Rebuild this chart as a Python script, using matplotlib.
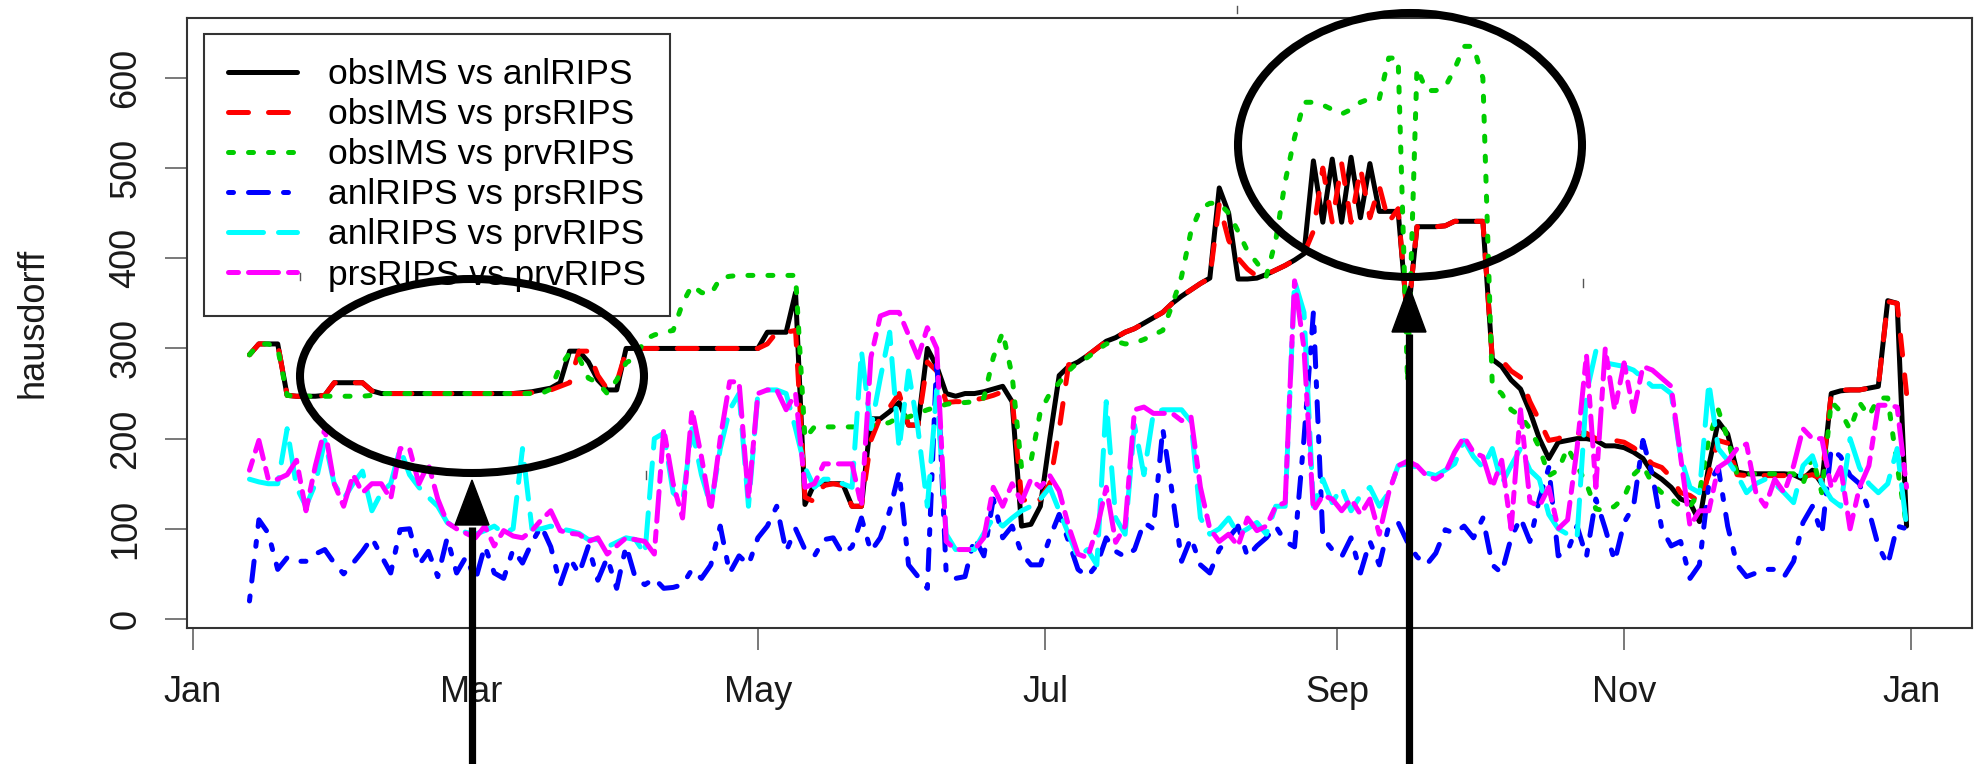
import numpy as np
import matplotlib
matplotlib.use("Agg")
import matplotlib.pyplot as plt
import matplotlib.dates as mdates
from matplotlib.patches import Ellipse, Polygon

# ---------------- data (every 2nd day, 13 Jan .. 31 Dec) ----------------
start_date = np.datetime64('2011-01-13')
dates = start_date + np.arange(0, 353, 2).astype('timedelta64[D]')

obsIMS_anlRIPS = [
    293, 305, 305, 305, 248, 247, 247, 247, 248, 262,
    262, 262, 262, 253, 250, 250, 250, 250, 250, 250,
    250, 250, 250, 250, 250, 250, 250, 250, 250, 251,
    252, 254, 256, 262, 297, 297, 285, 265, 254, 254,
    300, 300, 300, 300, 300, 300, 300, 300, 300, 300,
    300, 300, 300, 300, 300, 318, 318, 318, 362, 127,
    150, 150, 150, 150, 125, 125, 222, 222, 230, 240,
    215, 215, 300, 280, 250, 247, 250, 250, 252, 255,
    258, 241, 103, 105, 125, 200, 270, 280, 285, 292,
    300, 308, 312, 318, 322, 328, 334, 340, 350, 358,
    365, 372, 378, 478, 450, 377, 377, 378, 382, 387,
    392, 398, 405, 508, 440, 510, 440, 512, 445, 505,
    452, 452, 452, 330, 435, 435, 435, 436, 441, 441,
    441, 441, 288, 280, 265, 255, 230, 200, 178, 196,
    198, 200, 200, 198, 192, 192, 190, 185, 178, 162,
    155, 146, 133, 129, 108, 170, 219, 205, 163, 161,
    161, 161, 161, 161, 160, 155, 165, 150, 250, 253,
    254, 254, 256, 258, 353, 350, 103]

obsIMS_prsRIPS = [
    293, 305, 305, 305, 248, 247, 247, 247, 248, 262,
    262, 262, 262, 253, 250, 250, 250, 250, 250, 250,
    250, 250, 250, 250, 250, 250, 250, 250, 250, 250,
    251, 252, 254, 258, 262, 297, 297, 270, 255, 262,
    297, 300, 300, 300, 300, 300, 300, 300, 300, 300,
    300, 300, 300, 300, 300, 305, 318, 318, 320, 135,
    130, 148, 150, 148, 125, 125, 198, 224, 235, 250,
    215, 215, 285, 275, 240, 241, 241, 243, 245, 248,
    252, 245, 135, 125, 133, 150, 210, 282, 285, 292,
    300, 308, 312, 318, 322, 328, 334, 340, 350, 358,
    365, 372, 378, 460, 420, 400, 388, 380, 382, 387,
    392, 398, 405, 430, 500, 440, 505, 440, 500, 445,
    480, 440, 455, 330, 435, 435, 435, 436, 441, 441,
    441, 441, 288, 287, 275, 268, 241, 220, 198, 200,
    205, 206, 206, 200, 198, 198, 196, 190, 182, 172,
    168, 157, 140, 137, 130, 160, 198, 195, 160, 159,
    159, 159, 159, 159, 159, 158, 160, 155, 250, 254,
    254, 254, 256, 258, 352, 350, 250]

obsIMS_prvRIPS = [
    293, 305, 305, 300, 248, 247, 247, 247, 247, 247,
    247, 247, 247, 248, 250, 250, 250, 250, 250, 250,
    250, 250, 250, 250, 250, 250, 250, 250, 250, 250,
    250, 250, 255, 280, 295, 290, 267, 262, 250, 265,
    284, 290, 310, 315, 318, 320, 350, 370, 362, 360,
    378, 380, 381, 381, 381, 381, 381, 381, 381, 200,
    213, 213, 213, 213, 213, 213, 215, 215, 218, 224,
    224, 228, 232, 235, 238, 240, 240, 241, 245, 290,
    318, 270, 168, 175, 230, 250, 262, 275, 285, 290,
    298, 305, 308, 305, 306, 310, 315, 320, 348, 380,
    430, 455, 461, 461, 450, 430, 408, 395, 380, 420,
    485, 534, 573, 573, 570, 565, 560, 565, 573, 577,
    577, 622, 622, 262, 611, 586, 586, 590, 610, 635,
    635, 600, 258, 250, 232, 225, 211, 190, 159, 165,
    190, 170, 150, 122, 120, 125, 135, 160, 170, 150,
    140, 133, 125, 125, 140, 200, 232, 200, 160, 161,
    161, 161, 161, 161, 161, 150, 180, 140, 241, 230,
    210, 240, 225, 245, 245, 170, 103]

anlRIPS_prsRIPS = [
    20, 110, 95, 55, 68, 64, 64, 72, 77, 62,
    50, 62, 75, 90, 70, 51, 99, 100, 60, 75,
    47, 90, 51, 69, 43, 81, 51, 45, 77, 62,
    85, 103, 80, 38, 68, 50, 81, 43, 68, 34,
    81, 45, 38, 45, 34, 35, 38, 55, 45, 60,
    103, 51, 70, 60, 90, 103, 125, 75, 100, 77,
    70, 88, 90, 72, 80, 112, 75, 90, 120, 163,
    60, 47, 34, 290, 50, 45, 47, 90, 70, 133,
    90, 103, 73, 60, 60, 90, 116, 86, 55, 47,
    60, 90, 75, 69, 77, 107, 100, 211, 140, 64,
    90, 60, 51, 77, 90, 103, 69, 81, 90, 103,
    86, 80, 200, 340, 90, 77, 69, 90, 51, 86,
    60, 103, 107, 85, 69, 60, 73, 99, 95, 103,
    90, 112, 60, 51, 90, 112, 86, 133, 168, 70,
    75, 103, 69, 133, 100, 64, 107, 125, 198, 160,
    100, 81, 86, 45, 60, 150, 168, 103, 60, 47,
    51, 55, 55, 47, 64, 107, 125, 94, 189, 180,
    159, 150, 120, 81, 60, 103, 100]

anlRIPS_prvRIPS = [
    155, 152, 150, 150, 211, 146, 125, 150, 198, 150,
    133, 150, 164, 120, 140, 150, 189, 160, 146, 135,
    125, 107, 100, 96, 94, 98, 103, 95, 100, 189,
    100, 100, 103, 100, 98, 95, 88, 88, 80, 85,
    90, 88, 72, 200, 206, 140, 130, 211, 160, 125,
    189, 232, 250, 125, 250, 254, 254, 250, 211, 168,
    146, 155, 155, 150, 146, 297, 211, 267, 318, 189,
    275, 211, 125, 254, 94, 77, 77, 77, 95, 112,
    103, 112, 120, 125, 133, 146, 120, 94, 68, 77,
    60, 241, 112, 94, 215, 160, 228, 232, 232, 232,
    219, 112, 94, 100, 112, 94, 100, 107, 94, 125,
    125, 375, 340, 125, 155, 129, 146, 120, 137, 146,
    125, 140, 170, 172, 168, 162, 159, 165, 172, 198,
    180, 168, 189, 150, 170, 189, 165, 155, 116, 100,
    94, 90, 250, 297, 284, 282, 280, 276, 267, 258,
    258, 250, 180, 146, 140, 262, 189, 176, 160, 140,
    150, 155, 150, 140, 129, 170, 181, 150, 133, 125,
    200, 168, 150, 140, 150, 189, 103]

prsRIPS_prvRIPS = [
    165, 198, 155, 155, 160, 176, 120, 170, 211, 150,
    125, 160, 140, 150, 150, 133, 189, 189, 150, 172,
    133, 107, 100, 95, 90, 103, 81, 98, 92, 90,
    98, 110, 120, 98, 95, 94, 86, 90, 72, 81,
    90, 88, 86, 72, 211, 150, 112, 232, 180, 120,
    200, 263, 263, 133, 250, 254, 254, 232, 250, 146,
    150, 172, 172, 172, 172, 125, 290, 336, 340, 340,
    315, 290, 323, 300, 86, 77, 77, 77, 90, 146,
    125, 150, 130, 155, 146, 159, 142, 103, 72, 68,
    100, 146, 85, 103, 232, 235, 228, 228, 228, 220,
    224, 146, 100, 86, 94, 81, 112, 98, 103, 125,
    129, 375, 300, 120, 137, 133, 120, 133, 116, 133,
    94, 140, 170, 175, 170, 159, 155, 162, 185, 202,
    185, 180, 146, 176, 100, 232, 130, 125, 146, 100,
    110, 189, 293, 146, 300, 232, 284, 230, 280, 276,
    267, 258, 180, 103, 120, 120, 168, 175, 189, 194,
    140, 125, 155, 140, 170, 211, 200, 200, 146, 168,
    100, 146, 170, 237, 237, 235, 146]

series_labels = ['obsIMS vs anlRIPS', 'obsIMS vs prsRIPS', 'obsIMS vs prvRIPS',
                 'anlRIPS vs prsRIPS', 'anlRIPS vs prvRIPS', 'prsRIPS vs prvRIPS']
series_values = [obsIMS_anlRIPS, obsIMS_prsRIPS, obsIMS_prvRIPS,
                 anlRIPS_prsRIPS, anlRIPS_prvRIPS, prsRIPS_prvRIPS]
y_ticks = [0, 100, 200, 300, 400, 500, 600]
y_label = 'hausdorff'

# ---------------- styling ----------------
colors = ['#000000', '#FF0000', '#00CD00', '#0000FF', '#00FFFF', '#FF00FF']
dashes = [None, (4, 4), (1, 3), (1, 3, 4, 3), (7, 3), (2, 2, 6, 2)]

plt.rcParams['font.family'] = ['Liberation Sans', 'DejaVu Sans']

W, H = 1982, 764
fig = plt.figure(figsize=(W / 100, H / 100), dpi=100)
ax = fig.add_axes([187 / W, 1 - 628 / H, (1972 - 187) / W, (628 - 17.5) / H])

LW = 3.6
for lab, vals, c, d in zip(series_labels, series_values, colors, dashes):
    ls = '-' if d is None else (0, d)
    ax.plot(dates, vals, color=c, lw=LW, linestyle=ls, label=lab,
            dash_capstyle='round', solid_capstyle='round',
            solid_joinstyle='round', dash_joinstyle='round')

jan1 = mdates.date2num(np.datetime64('2011-01-01'))
ax.set_xlim(jan1 - 1.27, jan1 + 377.9)
ax.set_ylim(-10, 667)

ax.xaxis.set_major_locator(mdates.MonthLocator(bymonth=[1, 3, 5, 7, 9, 11]))
ax.xaxis.set_major_formatter(mdates.DateFormatter('%b'))
ax.set_yticks(y_ticks)

for s in ax.spines.values():
    s.set_linewidth(1.5)
    s.set_color('#333333')

ax.tick_params(axis='both', length=16, width=1.1, color='#555555',
               labelsize=26, labelcolor='#1a1a1a')
ax.tick_params(axis='x', pad=18)
ax.tick_params(axis='y', pad=15.5, labelrotation=90)
for t in ax.get_yticklabels():
    t.set_va('center')

fig.text(33 / W, 1 - 322.5 / H, y_label, rotation=90, ha='center',
         va='center', fontsize=26, color='#1a1a1a')

leg = ax.legend(loc='upper left', bbox_to_anchor=(204 / W, 1 - 34 / H),
                bbox_transform=fig.transFigure, borderaxespad=0,
                fancybox=False, framealpha=1, edgecolor='#333333',
                fontsize=25.5, handlelength=1.95, handletextpad=0.88,
                borderpad=0.68, labelspacing=0.2)
leg.get_frame().set_linewidth(1.5)

# ---------------- annotations (overlay in pixel units) ----------------
ov = fig.add_axes([0, 0, 1, 1], facecolor='none')
ov.set_xlim(0, W)
ov.set_ylim(H, 0)
ov.axis('off')

ov.add_patch(Ellipse((472, 376), 344, 194, fill=False, lw=5.8, ec='black'))
ov.add_patch(Ellipse((1410, 145), 344, 264, fill=False, lw=5.8, ec='black'))

for x, tip, base in [(472, 480, 525), (1409, 286, 332)]:
    ov.plot([x, x], [H + 5, base + 2], color='black', lw=5.2, solid_capstyle='butt')
    ov.add_patch(Polygon([(x - 17, base), (x + 17, base), (x, tip)],
                         closed=True, color='black'))

for x, y0, y1 in [(1237, 6, 13), (1583, 279, 287), (646, 471, 479), (300, 273, 280)]:
    ov.plot([x, x], [y0, y1], color='#555555', lw=1.0)

fig.savefig('out.png', dpi=100)
